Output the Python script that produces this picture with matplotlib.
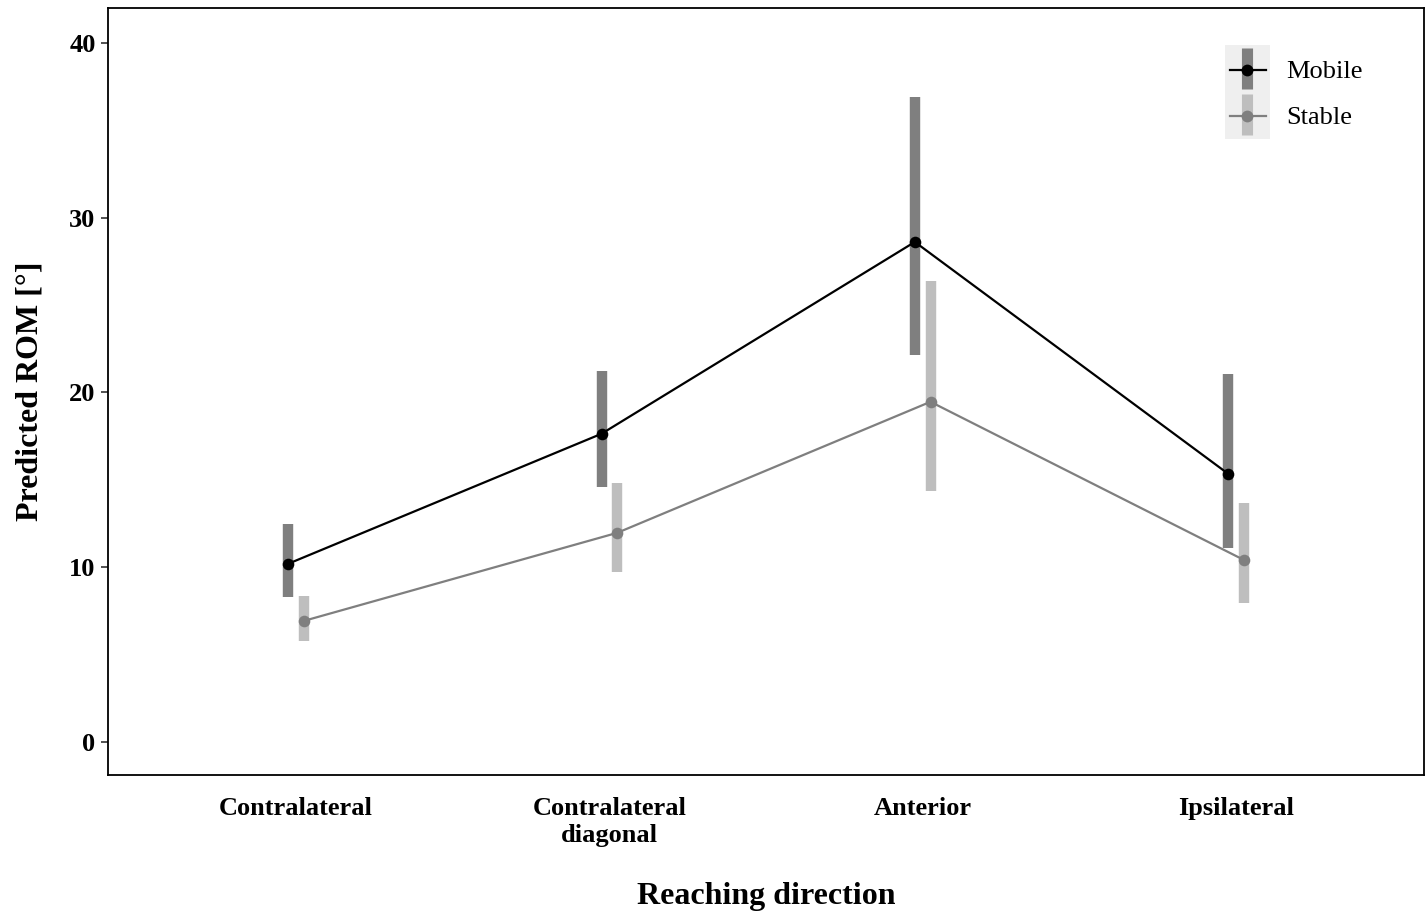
#!/usr/bin/env python3

import numpy as np
import matplotlib.pyplot as plt
from matplotlib.patches import Rectangle
from matplotlib.lines import Line2D

# Data
directions = ['Contralateral', 'Contralateral\ndiagonal', 'Anterior', 'Ipsilateral']
groups = ['Mobile', 'Stable']

mobile_fit = [10.19, 17.63, 28.61, 15.34]
mobile_lo = [8.30, 14.59, 22.15, 11.10]
mobile_hi = [12.47, 21.23, 36.91, 21.06]

stable_fit = [6.92, 11.96, 19.46, 10.41]
stable_lo = [5.78, 9.73, 14.36, 7.95]
stable_hi = [8.35, 14.82, 26.38, 13.68]

W, H = 1427, 911
plt.rcParams['font.family'] = ['Liberation Serif', 'DejaVu Serif']


def px(x, y):
    # pixel position -> figure fraction
    return x / W, 1 - y / H


def plot(ax):
    x = np.arange(1, len(directions) + 1)
    dodge = 0.025
    series = [
        (mobile_fit, mobile_lo, mobile_hi, -dodge, 'black', '#7f7f7f'),
        (stable_fit, stable_lo, stable_hi, dodge, '#7f7f7f', '#bebebe'),
    ]
    for fit, lo, hi, dx, lc, bc in series:
        xs = x + dx
        ax.vlines(xs, lo, hi, colors=bc, linewidth=7.5, zorder=2)
        ax.plot(xs, fit, color=lc, linewidth=1.6, zorder=3)
        ax.scatter(xs, fit, color=lc, s=70, zorder=4, linewidths=0)

    ax.set_xlim(0.4, 4.6)
    ax.set_ylim(-1.9, 42.0)
    ax.set_xticks(x)
    ax.set_xticklabels(directions, fontweight='bold', fontsize=19, linespacing=1.2)
    ax.set_yticks([0, 10, 20, 30, 40])
    ax.tick_params(axis='y', labelsize=19, length=5, width=1.2, color='#333333', pad=4)
    ax.tick_params(axis='x', length=0, pad=16)
    for lab in ax.get_yticklabels():
        lab.set_fontweight('bold')
    for s in ax.spines.values():
        s.set_linewidth(1.3)
    ax.set_xlabel('Reaching direction', fontsize=23, fontweight='bold', labelpad=25)
    ax.set_ylabel('Predicted ROM [°]', fontsize=23, fontweight='bold', labelpad=18)


def legend(fig):
    # ggplot-style legend with grey key background
    x0, y0 = px(1225, 139)
    x1, y1 = px(1270, 45)
    fig.patches.append(Rectangle((x0, y0), x1 - x0, y1 - y0, transform=fig.transFigure,
                                 facecolor='#efefef', edgecolor='none'))
    rows = [(70, 'Mobile', 'black', '#7f7f7f'), (116, 'Stable', '#7f7f7f', '#bebebe')]
    for yc, name, lc, bc in rows:
        bx, by0 = px(1247, yc + 19)
        _, by1 = px(1247, yc - 22)
        fig.add_artist(Line2D([bx, bx], [by0, by1], transform=fig.transFigure,
                              color=bc, linewidth=8, solid_capstyle='butt'))
        lx0, ly = px(1230, yc)
        lx1, _ = px(1266, yc)
        fig.add_artist(Line2D([lx0, lx1], [ly, ly], transform=fig.transFigure,
                              color=lc, linewidth=1.6))
        fig.add_artist(Line2D([bx], [ly], transform=fig.transFigure, marker='o',
                              markersize=8.5, color=lc, markeredgewidth=0))
        tx, ty = px(1286, yc + 2)
        fig.text(tx, ty, name, fontsize=19, va='center', ha='left')


def main():
    fig = plt.figure(figsize=(W / 100, H / 100), dpi=100)
    ax = fig.add_axes([108 / W, 1 - 775 / H, (1424 - 108) / W, (775 - 8) / H])
    plot(ax)
    legend(fig)
    fig.savefig('out.png', dpi=100)


if __name__ == '__main__':
    main()
